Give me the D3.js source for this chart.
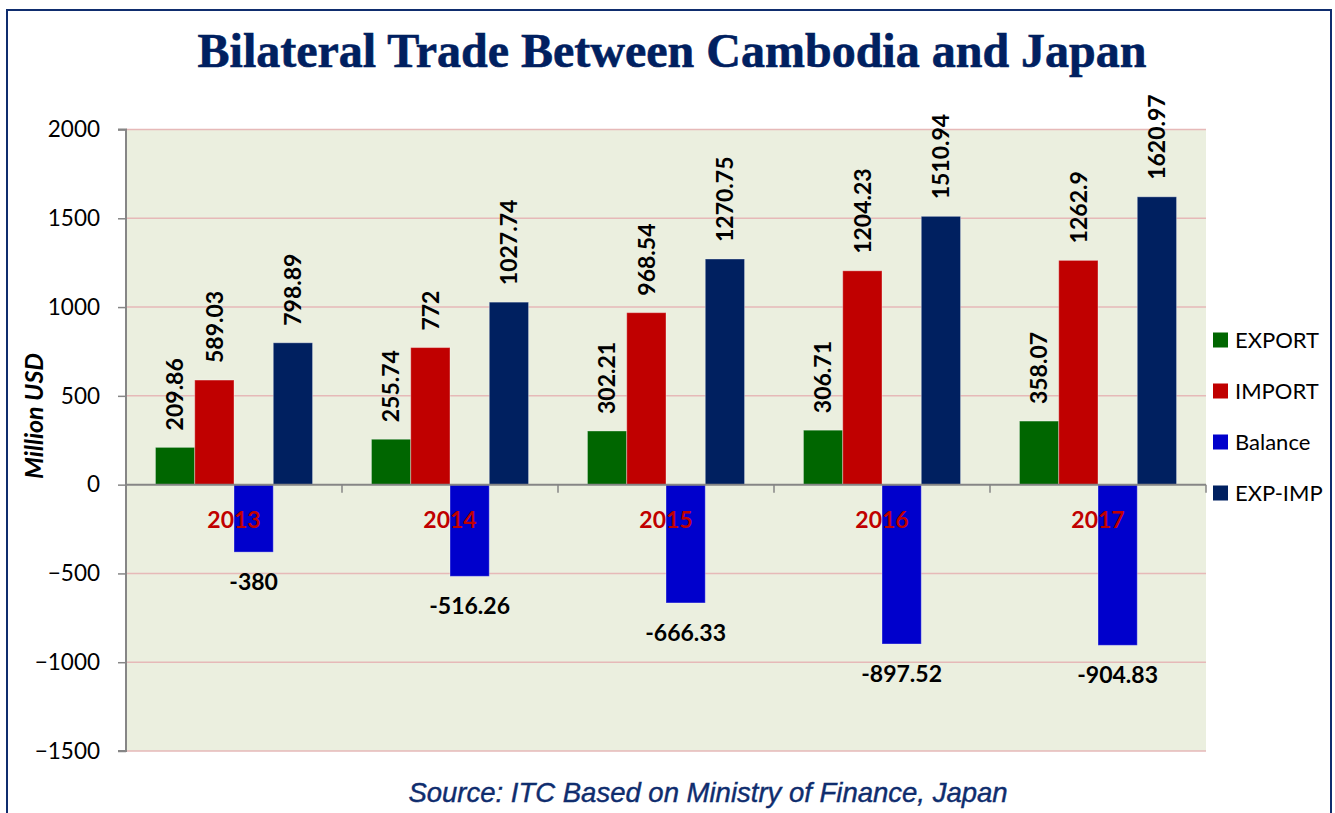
<!DOCTYPE html>
<html>
<head>
<meta charset="utf-8">
<script src="https://cdn.jsdelivr.net/npm/d3@7"></script>
<style>
  body { margin: 0; background: #fff; }
  svg { display: block; }
</style>
</head>
<body>
<div id="chart"></div>
<script>
// chart data
const years = ["2013", "2014", "2015", "2016", "2017"];
const seriesNames = ["EXPORT", "IMPORT", "Balance", "EXP-IMP"];
const exportValues = [209.86, 255.74, 302.21, 306.71, 358.07];
const importValues = [589.03, 772, 968.54, 1204.23, 1262.9];
const balanceValues = [-380, -516.26, -666.33, -897.52, -904.83];
const expImpValues = [798.89, 1027.74, 1270.75, 1510.94, 1620.97];
const yTicks = [-1500, -1000, -500, 0, 500, 1000, 1500, 2000];

const COLORS = {
  "EXPORT": "#006600",
  "IMPORT": "#c00000",
  "Balance": "#0000cc",
  "EXP-IMP": "#002060"
};
const NAVY = "#002060";
const LABEL_FONT = "Lato, 'Open Sans', sans-serif";

let svg = null;
let x0 = null, x1 = null, y = null;
const plot = {left: 126, right: 1206, top: 129.5, bottom: 751};

renderChart();

function renderChart() {
  appendSvg("#chart");
  setupScales();
  appendFrame();
  appendTitle();
  appendGrid();
  appendBars();
  appendAxes();
  appendLabels();
  appendLegend();
  appendSource();
}

function appendSvg(domElement) {
  svg = d3.select(domElement)
    .append("svg")
    .attr("width", 1335)
    .attr("height", 813);
}

function setupScales() {
  x0 = d3.scaleBand()
    .domain(years)
    .range([plot.left, plot.right])
    .padding(0);

  x1 = d3.scaleBand()
    .domain(seriesNames)
    .range([0, x0.bandwidth()])
    .paddingInner(0)
    .paddingOuter(0.75);

  y = d3.scaleLinear()
    .domain([-1500, 2000])
    .range([plot.bottom, plot.top]);
}

function appendFrame() {
  svg.append("rect")
    .attr("x", 7)
    .attr("y", 10)
    .attr("width", 1324)
    .attr("height", 830)
    .attr("fill", "#fff")
    .attr("stroke", "#0f2d6e")
    .attr("stroke-width", 2);

  svg.append("rect")
    .attr("x", plot.left)
    .attr("y", plot.top)
    .attr("width", plot.right - plot.left)
    .attr("height", plot.bottom - plot.top)
    .attr("fill", "#ebefdf");
}

function appendTitle() {
  svg.append("text")
    .attr("x", 672)
    .attr("y", 67)
    .attr("text-anchor", "middle")
    .style("font-family", "'Liberation Serif', 'Times New Roman', serif")
    .style("font-weight", "bold")
    .style("font-size", "48px")
    .attr("fill", NAVY)
    .attr("stroke", NAVY)
    .attr("stroke-width", 0.6)
    .text("Bilateral Trade Between Cambodia and Japan");
}

function appendGrid() {
  svg.append("g")
    .attr("class", "grid")
    .selectAll("line")
    .data(yTicks.filter(d => d !== 0))
    .enter().append("line")
    .attr("x1", plot.left)
    .attr("x2", plot.right)
    .attr("y1", d => y(d))
    .attr("y2", d => y(d))
    .attr("stroke", "#e6b9b8")
    .attr("stroke-width", 1.5);
}

function rowsFor(i) {
  return [
    {key: "EXPORT", value: exportValues[i]},
    {key: "IMPORT", value: importValues[i]},
    {key: "Balance", value: balanceValues[i]},
    {key: "EXP-IMP", value: expImpValues[i]}
  ];
}

function appendBars() {
  let groups = svg.append("g")
    .attr("class", "bars")
    .selectAll("g")
    .data(years)
    .enter().append("g")
    .attr("transform", d => `translate(${x0(d)},0)`);

  groups.selectAll("rect")
    .data((d, i) => rowsFor(i))
    .enter().append("rect")
    .attr("x", d => x1(d.key))
    .attr("width", x1.bandwidth())
    .attr("y", d => y(Math.max(0, d.value)))
    .attr("height", d => Math.abs(y(d.value) - y(0)))
    .attr("fill", d => COLORS[d.key])
    .attr("stroke", "rgba(255,255,255,0.35)")
    .attr("stroke-width", 1);
}

function appendAxes() {
  let yAxis = svg.append("g")
    .attr("class", "y axis")
    .attr("transform", `translate(${plot.left},0)`)
    .call(d3.axisLeft(y)
      .tickValues(yTicks)
      .tickSize(8)
      .tickPadding(18)
      .tickFormat(d3.format("d")));

  yAxis.select(".domain")
    .attr("stroke", "#868686")
    .attr("stroke-width", 2)
    .attr("d", `M-8,${plot.top}H0V${plot.bottom}H-8`);
  yAxis.selectAll(".tick line").attr("stroke", "#868686").attr("stroke-width", 1.5);
  yAxis.selectAll(".tick text")
    .style("font-family", LABEL_FONT)
    .style("font-size", "22.5px")
    .attr("fill", "#000");

  // category axis on the zero line, ticks at the band boundaries
  let boundaries = years.map(d => x0(d)).concat([x0(years[years.length - 1]) + x0.bandwidth()]);
  let xAxis = svg.append("g").attr("class", "x axis");
  xAxis.append("line")
    .attr("x1", plot.left)
    .attr("x2", plot.right)
    .attr("y1", y(0))
    .attr("y2", y(0))
    .attr("stroke", "#868686")
    .attr("stroke-width", 2);
  xAxis.selectAll(".xtick")
    .data(boundaries)
    .enter().append("line")
    .attr("class", "xtick")
    .attr("x1", d => d)
    .attr("x2", d => d)
    .attr("y1", y(0))
    .attr("y2", y(0) + 8)
    .attr("stroke", "#868686")
    .attr("stroke-width", 1.5);
}

function appendLabels() {
  // year labels, drawn over the bars
  svg.append("g")
    .selectAll("text")
    .data(years)
    .enter().append("text")
    .attr("x", d => x0(d) + x0.bandwidth() / 2)
    .attr("y", y(0) + 43)
    .attr("text-anchor", "middle")
    .style("font-family", LABEL_FONT)
    .style("font-weight", "bold")
    .style("font-size", "23px")
    .attr("fill", "#c00000")
    .text(d => d);

  let groups = svg.append("g")
    .attr("class", "values")
    .selectAll("g")
    .data(years)
    .enter().append("g")
    .attr("transform", d => `translate(${x0(d)},0)`);

  groups.selectAll("text")
    .data((d, i) => rowsFor(i))
    .enter().append("text")
    .style("font-family", LABEL_FONT)
    .style("font-weight", "bold")
    .style("font-size", "23px")
    .attr("fill", "#000")
    .each(function(d) {
      let cx = x1(d.key) + x1.bandwidth() / 2;
      let t = d3.select(this);
      if (d.value >= 0) {
        t.attr("transform", `translate(${cx},${y(d.value) - 17}) rotate(-90)`)
          .attr("text-anchor", "start")
          .attr("dy", "0.36em");
      } else {
        t.attr("x", cx)
          .attr("y", y(d.value) + 38)
          .attr("text-anchor", "middle");
      }
    })
    .text(d => d.value);

  svg.append("text")
    .attr("transform", "translate(43,416) rotate(-90)")
    .attr("text-anchor", "middle")
    .style("font-family", LABEL_FONT)
    .style("font-weight", "bold")
    .style("font-style", "italic")
    .style("font-size", "25px")
    .attr("fill", "#000")
    .text("Million USD");
}

function appendLegend() {
  let legend = svg.append("g")
    .attr("class", "legend")
    .attr("transform", "translate(1213,340)");

  let items = legend.selectAll("g")
    .data(seriesNames)
    .enter().append("g")
    .attr("transform", (d, i) => `translate(0,${i * 51})`);

  items.append("rect")
    .attr("x", 0)
    .attr("y", -7.5)
    .attr("width", 15)
    .attr("height", 15)
    .attr("fill", d => COLORS[d]);

  items.append("text")
    .attr("x", 22)
    .attr("dy", "0.36em")
    .style("font-family", LABEL_FONT)
    .style("font-size", "22px")
    .attr("fill", "#000")
    .text(d => d);
}

function appendSource() {
  svg.append("text")
    .attr("x", 708)
    .attr("y", 802)
    .attr("text-anchor", "middle")
    .style("font-family", "'Liberation Sans', Arial, sans-serif")
    .style("font-style", "italic")
    .style("font-size", "27.5px")
    .attr("fill", "#0f2d6e")
    .attr("stroke", "#0f2d6e")
    .attr("stroke-width", 0.4)
    .text("Source: ITC Based on Ministry of Finance, Japan");
}
</script>
</body>
</html>
